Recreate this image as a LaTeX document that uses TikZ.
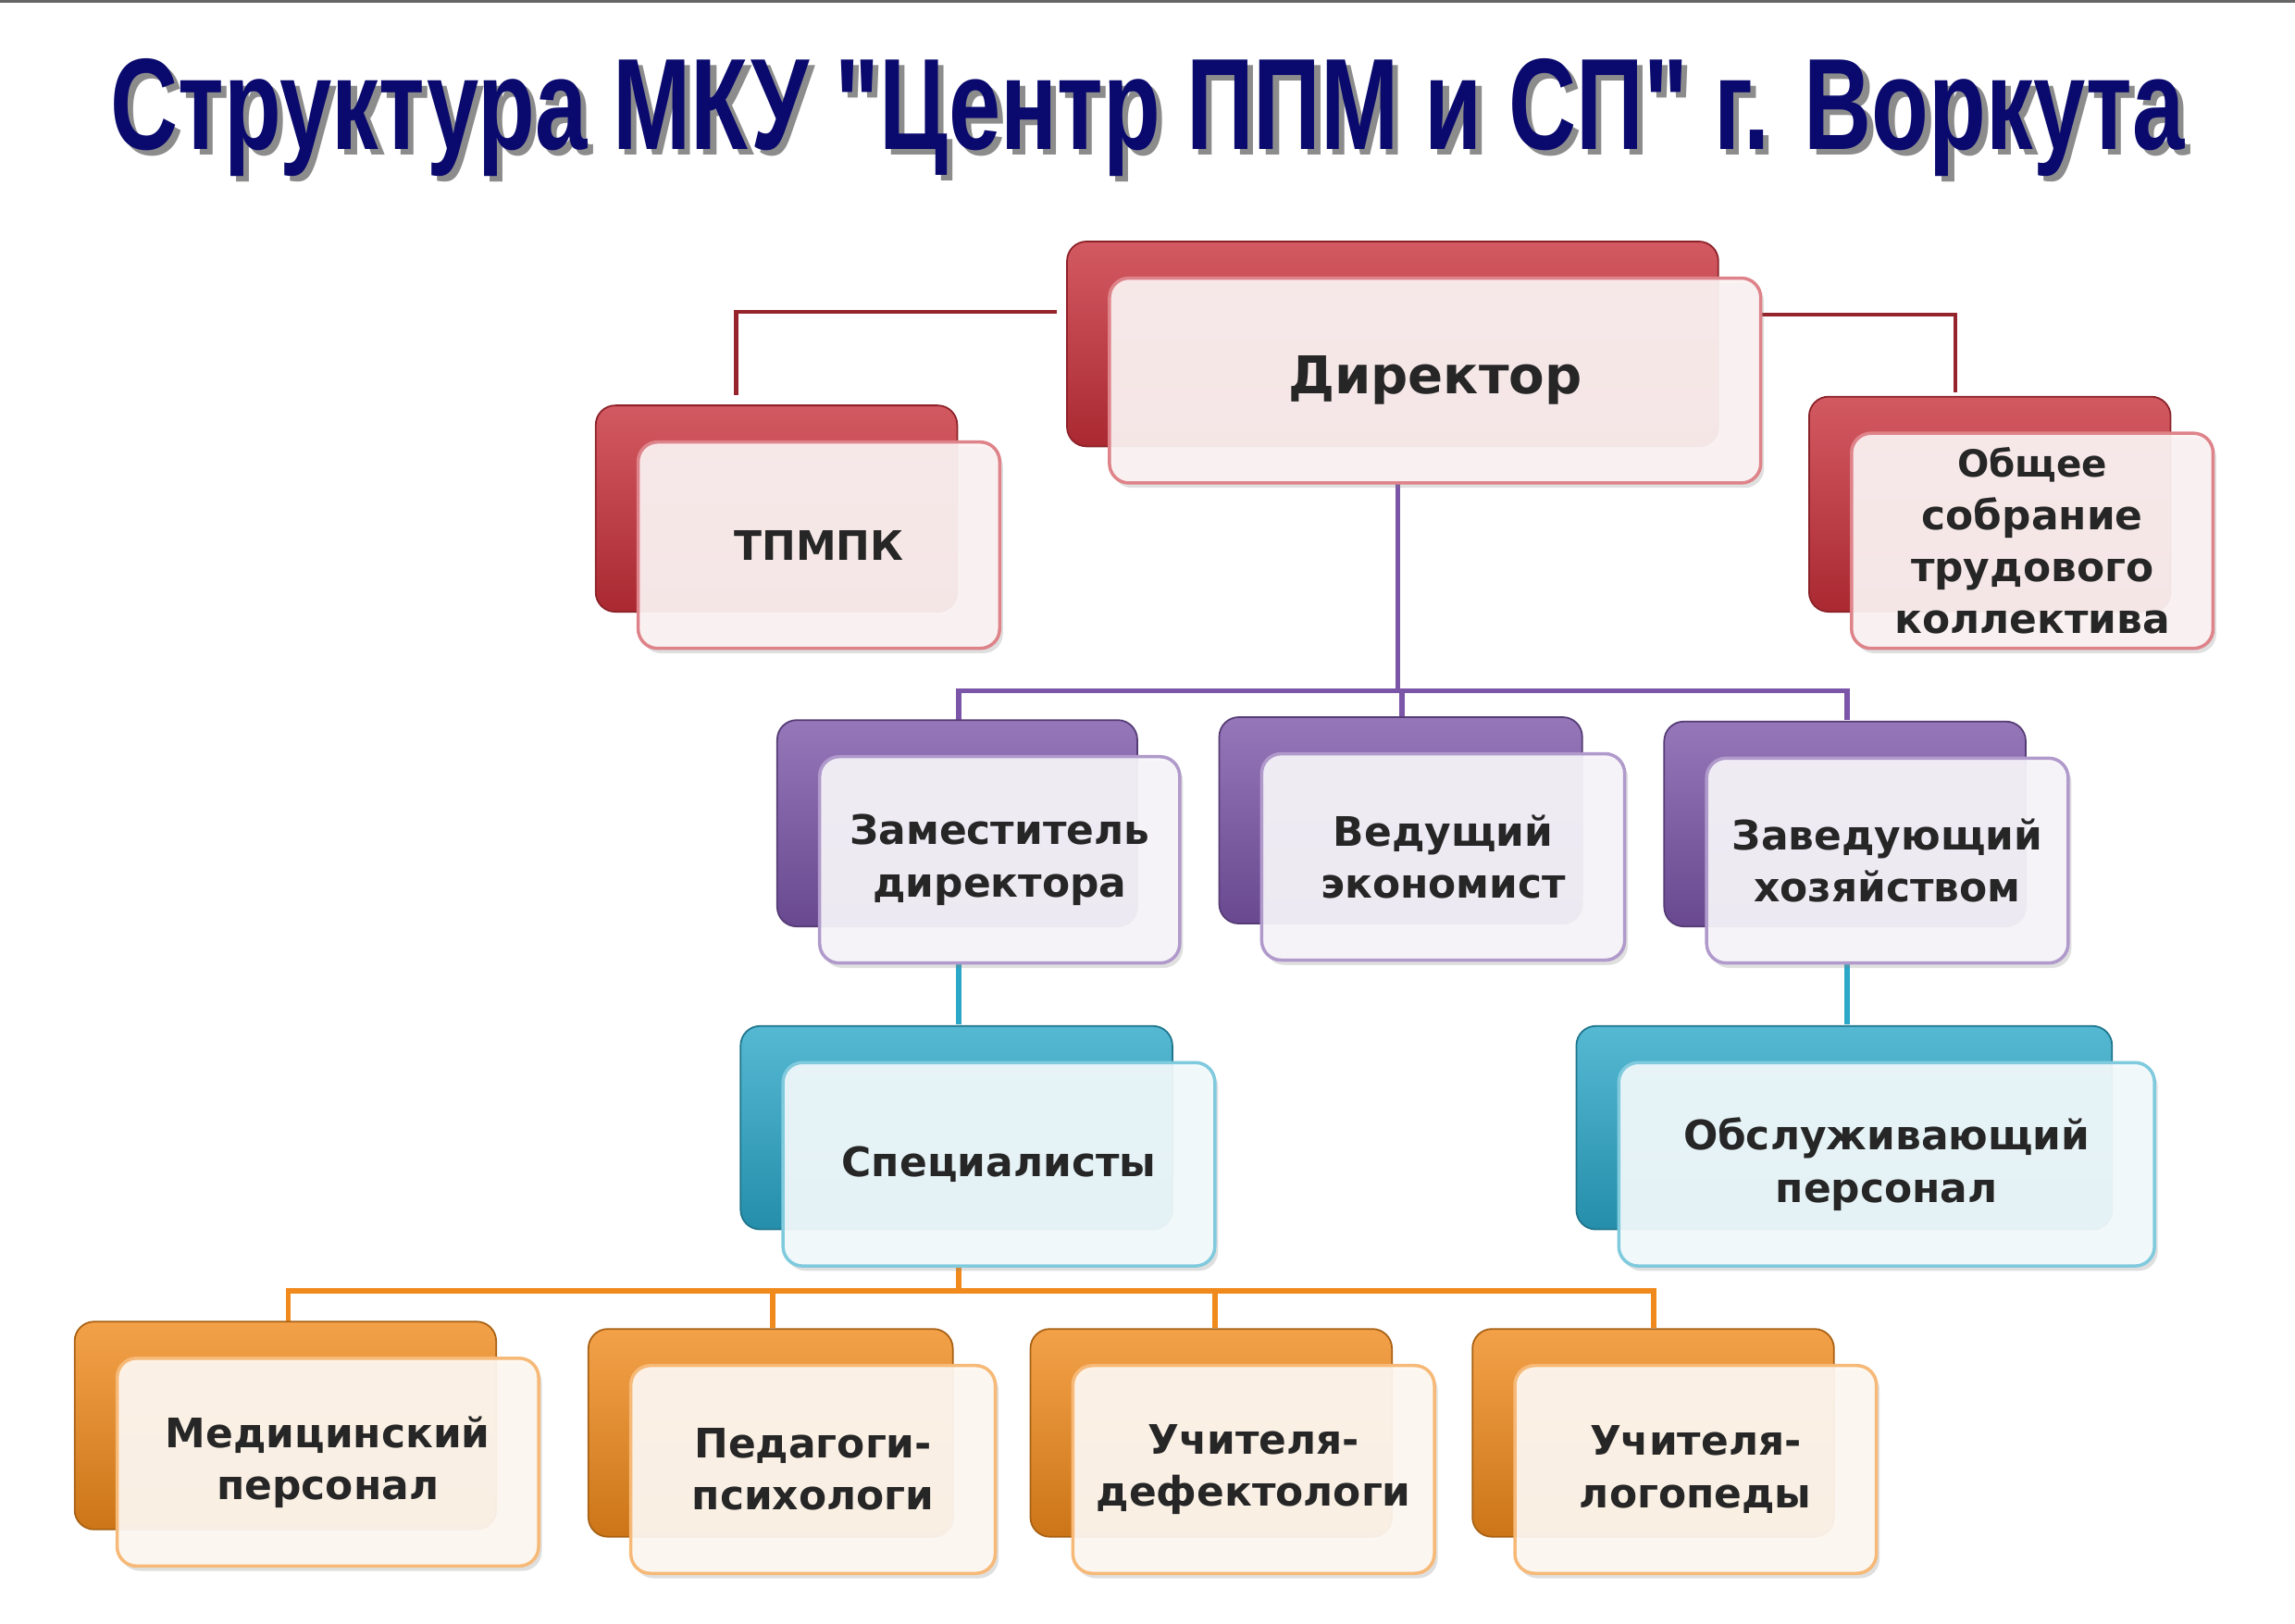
\documentclass[tikz,border=0pt]{standalone}
\usepackage{fontspec}
\setmainfont{DejaVu Sans}
\newfontfamily\titlefont{Liberation Sans}
\usetikzlibrary{shadows}
\definecolor{cred}{HTML}{C8303A}
\definecolor{cpur}{HTML}{7B55A8}
\definecolor{ccyan}{HTML}{2BA7C8}
\definecolor{corg}{HTML}{F08A1C}
\definecolor{navy}{HTML}{0A0A6E}
\tikzset{
 backbox/.style={rounded corners=6pt, top color=#1!80!white, bottom color=#1!85!black, draw=#1!70!black, line width=0.5pt},
 frontbox/.style={rounded corners=6pt, fill=#1!6!white, fill opacity=0.93, draw=#1!60!white, line width=1pt, drop shadow={opacity=0.25,shadow xshift=1pt,shadow yshift=-1.5pt}},
 lbl/.style={font=\fontsize{12.5}{16}\selectfont\bfseries, align=center, text=black!85},
 conn/.style={line width=1.6pt, draw=#1}
}
\newcommand{\orgbox}[7]{%
 \path[backbox=#6] (#2-29,#3-25) rectangle (#4-29,#5-25);
 \path[frontbox=#6] (#2,#3) rectangle (#4,#5);
 \node[lbl] (#1) at ({(#2+#4)/2},{(#3+#5)/2}) {#7};
}
\begin{document}
\begin{tikzpicture}[x=0.015816cm,y=-0.015816cm]
\useasboundingbox (0,0) rectangle (1568,1109);
\fill[white] (0,0) rectangle (1568,1109);
\draw[black!60, line width=0.8pt] (0,1) -- (1568,1);
% title
\node[font=\titlefont\fontsize{40}{44}\selectfont\bfseries, text=black!45] at (788,84) {\scalebox{0.72}[1]{Структура МКУ "Центр ППМ и СП" г. Воркута}};
\node[font=\titlefont\fontsize{40}{44}\selectfont\bfseries, text=navy] (title) at (784,80) {\scalebox{0.72}[1]{Структура МКУ "Центр ППМ и СП" г. Воркута}};
% connectors
\coordinate (dl) at (722,213); \coordinate (dr) at (1203,215);
\coordinate (tl) at (503,270); \coordinate (tr) at (1336,268);
\draw[conn=cred!75!black, line width=1.3pt] (dl) -- (503,213) -- (tl);
\draw[conn=cred!75!black, line width=1.3pt] (dr) -- (1336,215) -- (tr);
\coordinate (dS) at (955,330); \coordinate (pj) at (955,472);
\coordinate (p1) at (655,492); \coordinate (p2) at (958,490); \coordinate (p3) at (1262,492);
\draw[conn=cpur] (dS) -- (pj);
\draw[conn=cpur] (p1) |- (pj) -| (p3);
\draw[conn=cpur] (958,472) -- (p2);
\coordinate (z1) at (655,658); \coordinate (s1) at (655,700);
\coordinate (z3) at (1262,658); \coordinate (s3) at (1262,700);
\draw[conn=ccyan] (z1) -- (s1);
\draw[conn=ccyan] (z3) -- (s3);
\coordinate (sp) at (655,865); \coordinate (oj) at (655,882);
\coordinate (o1) at (197,905); \coordinate (o2) at (528,907); \coordinate (o3) at (830,907); \coordinate (o4) at (1130,907);
\draw[conn=corg] (sp) -- (oj);
\draw[conn=corg] (o1) |- (oj) -| (o4);
\draw[conn=corg] (528,882) -- (o2);
\draw[conn=corg] (830,882) -- (o3);
% boxes
\orgbox{dir}{758}{190}{1203}{330}{cred}{\fontsize{16}{20}\selectfont Директор}
\orgbox{tpmpk}{436}{302}{683}{443}{cred}{ТПМПК}
\orgbox{obsh}{1265}{296}{1512}{443}{cred}{\fontsize{11.5}{15}\selectfont Общее\\ собрание\\ трудового\\ коллектива}
\orgbox{zam}{560}{517}{806}{658}{cpur}{Заместитель\\ директора}
\orgbox{ved}{862}{515}{1110}{656}{cpur}{Ведущий\\ экономист}
\orgbox{zav}{1166}{518}{1413}{658}{cpur}{Заведующий\\ хозяйством}
\orgbox{spec}{535}{726}{830}{865}{ccyan}{Специалисты}
\orgbox{obsl}{1106}{726}{1472}{865}{ccyan}{Обслуживающий\\ персонал}
\orgbox{med}{80}{928}{368}{1070}{corg}{Медицинский\\ персонал}
\orgbox{ped}{431}{933}{680}{1075}{corg}{Педагоги-\\ психологи}
\orgbox{def}{733}{933}{980}{1075}{corg}{Учителя-\\ дефектологи}
\orgbox{log}{1035}{933}{1282}{1075}{corg}{Учителя-\\ логопеды}
\end{tikzpicture}
\end{document}
